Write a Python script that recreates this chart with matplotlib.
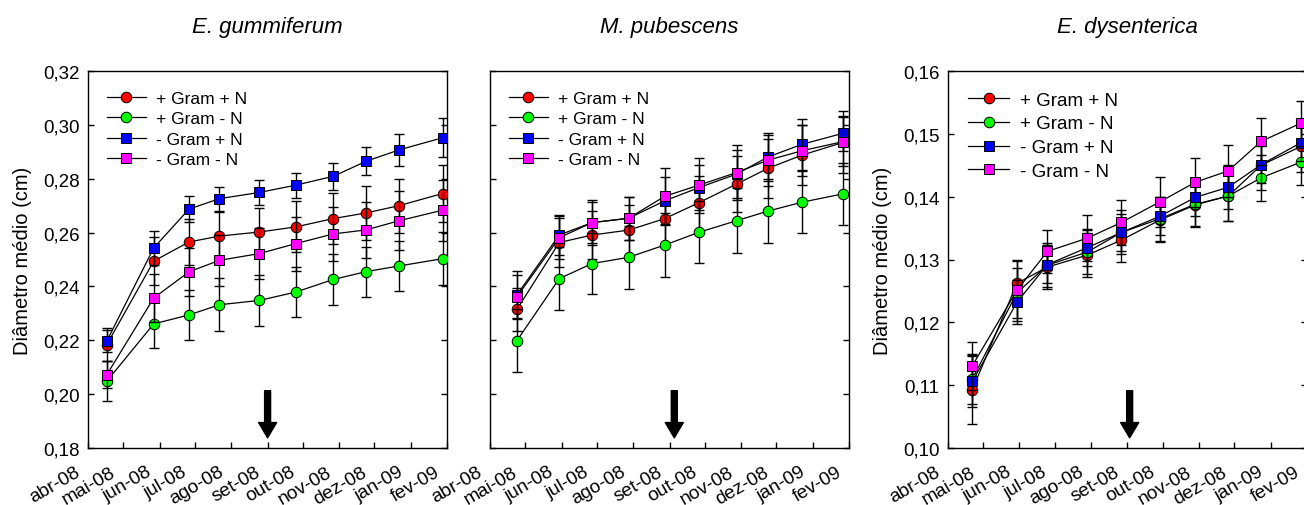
import numpy as np
import matplotlib
matplotlib.use("Agg")
import matplotlib.pyplot as plt
import matplotlib.dates as mdates
import matplotlib.transforms as mtransforms
from matplotlib.ticker import FixedLocator, FuncFormatter

plt.rcParams['font.family'] = ['Liberation Sans', 'DejaVu Sans']

# ---- data -------------------------------------------------------------
treatments = ['+ Gram + N', '+ Gram - N', '- Gram + N', '- Gram - N']
colors = ['#ff0000', '#00ff00', '#0000ff', '#ff00ff']
markers = ['o', 'o', 's', 's']

species = ['E. gummiferum', 'M. pubescens', 'E. dysenterica']

month_ticks = ['2008-04-01', '2008-05-01', '2008-06-01', '2008-07-01', '2008-08-01',
               '2008-09-01', '2008-10-01', '2008-11-01', '2008-12-01', '2009-01-01',
               '2009-02-01']
month_labels = ['abr-08', 'mai-08', 'jun-08', 'jul-08', 'ago-08', 'set-08',
                'out-08', 'nov-08', 'dez-08', 'jan-09', 'fev-09']

dates_gum = ['2008-04-17', '2008-05-27', '2008-06-26', '2008-07-22', '2008-08-25',
             '2008-09-25', '2008-10-27', '2008-11-24', '2008-12-22', '2009-01-28']
dates_pub = ['2008-04-24', '2008-05-30', '2008-06-27', '2008-07-28', '2008-08-28',
             '2008-09-26', '2008-10-28', '2008-11-24', '2008-12-23', '2009-01-27']
dates_dys = ['2008-04-22', '2008-05-30', '2008-06-25', '2008-07-29', '2008-08-27',
             '2008-09-29', '2008-10-29', '2008-11-26', '2008-12-24', '2009-01-27']

# E. gummiferum
gum_mean = [
    [0.2184, 0.2494, 0.2565, 0.2587, 0.2602, 0.2621, 0.2652, 0.2673, 0.2700, 0.2745],
    [0.2048, 0.2261, 0.2294, 0.2332, 0.2348, 0.2379, 0.2426, 0.2455, 0.2476, 0.2503],
    [0.2197, 0.2543, 0.2687, 0.2726, 0.2749, 0.2776, 0.2809, 0.2865, 0.2907, 0.2952],
    [0.2072, 0.2357, 0.2454, 0.2497, 0.2522, 0.2559, 0.2595, 0.2610, 0.2644, 0.2683],
]
gum_err = [
    [0.0060, 0.0090, 0.0085, 0.0090, 0.0090, 0.0095, 0.0095, 0.0100, 0.0100, 0.0105],
    [0.0075, 0.0090, 0.0094, 0.0098, 0.0095, 0.0092, 0.0094, 0.0093, 0.0092, 0.0099],
    [0.0040, 0.0063, 0.0047, 0.0045, 0.0047, 0.0047, 0.0050, 0.0052, 0.0060, 0.0072],
    [0.0050, 0.0090, 0.0090, 0.0095, 0.0095, 0.0100, 0.0100, 0.0105, 0.0110, 0.0113],
]

# M. pubescens
pub_mean = [
    [0.2315, 0.2563, 0.2591, 0.2609, 0.2652, 0.2711, 0.2780, 0.2839, 0.2888, 0.2935],
    [0.2199, 0.2429, 0.2485, 0.2508, 0.2554, 0.2601, 0.2644, 0.2680, 0.2713, 0.2744],
    [0.2369, 0.2591, 0.2637, 0.2653, 0.2718, 0.2767, 0.2817, 0.2881, 0.2928, 0.2969],
    [0.2362, 0.2581, 0.2637, 0.2653, 0.2735, 0.2776, 0.2823, 0.2869, 0.2904, 0.2938],
]
pub_err = [
    [0.0080, 0.0090, 0.0090, 0.0095, 0.0100, 0.0100, 0.0105, 0.0110, 0.0110, 0.0115],
    [0.0117, 0.0118, 0.0112, 0.0116, 0.0118, 0.0115, 0.0121, 0.0118, 0.0116, 0.0115],
    [0.0090, 0.0075, 0.0075, 0.0080, 0.0090, 0.0085, 0.0090, 0.0090, 0.0095, 0.0065],
    [0.0080, 0.0080, 0.0085, 0.0080, 0.0105, 0.0102, 0.0102, 0.0095, 0.0095, 0.0090],
]

# E. dysenterica
dys_mean = [
    [0.1093, 0.1262, 0.1288, 0.1307, 0.1331, 0.1363, 0.1387, 0.1401, 0.1450, 0.1480],
    [0.1110, 0.1247, 0.1291, 0.1312, 0.1343, 0.1365, 0.1388, 0.1401, 0.1430, 0.1455],
    [0.1106, 0.1232, 0.1292, 0.1319, 0.1343, 0.1369, 0.1399, 0.1415, 0.1451, 0.1486],
    [0.1131, 0.1251, 0.1313, 0.1334, 0.1359, 0.1392, 0.1423, 0.1441, 0.1488, 0.1517],
]
dys_err = [
    [0.0055, 0.0035, 0.0035, 0.0035, 0.0035, 0.0035, 0.0035, 0.0040, 0.0040, 0.0040],
    [0.0040, 0.0040, 0.0035, 0.0035, 0.0035, 0.0035, 0.0035, 0.0040, 0.0037, 0.0037],
    [0.0040, 0.0035, 0.0030, 0.0030, 0.0030, 0.0030, 0.0030, 0.0035, 0.0030, 0.0030],
    [0.0038, 0.0049, 0.0034, 0.0037, 0.0036, 0.0040, 0.0039, 0.0041, 0.0037, 0.0036],
]

arrow_dates = ['2008-09-01', '2008-09-05', '2008-09-03']

yticks_gum = [0.18, 0.20, 0.22, 0.24, 0.26, 0.28, 0.30, 0.32]
yticks_dys = [0.10, 0.11, 0.12, 0.13, 0.14, 0.15, 0.16]

# ---- figure -------------------------------------------------------------
fig = plt.figure(figsize=(13.04, 5.06), dpi=100)
W, H = 1304, 506
ax_lefts = [88, 490, 947.7]
ax_w, ax_top, ax_bot = 359.2, 72, 449

panels = [
    (dates_gum, gum_mean, gum_err, yticks_gum, True, 12.5, 0.3),
    (dates_pub, pub_mean, pub_err, yticks_gum, False, 12.5, 0.3),
    (dates_dys, dys_mean, dys_err, yticks_dys, True, 13.5, 0.35),
]

xticks = mdates.date2num(np.array(month_ticks, dtype='datetime64[D]'))
# month labels sit down-left of their tick, as in the original
label_shift = mtransforms.ScaledTranslation(-0.13, -0.15, fig.dpi_scale_trans)

for k, (dates, means, errs, yticks, show_y, leg_fs, leg_sp) in enumerate(panels):
    left = ax_lefts[k]
    ax = fig.add_axes([left / W, (H - ax_bot) / H, ax_w / W, (ax_bot - ax_top) / H])
    x = mdates.date2num(np.array(dates, dtype='datetime64[D]'))

    for i in range(len(treatments)):
        ax.errorbar(x, means[i], yerr=errs[i], fmt='none', ecolor='black',
                    elinewidth=1, capsize=3.5, capthick=1, zorder=2 + 2 * i)
        ax.plot(x, means[i], '-', color='black', lw=0.9, marker=markers[i],
                ms=7.6 if markers[i] == 'o' else 7.0, mfc=colors[i], mec='black',
                mew=0.7, label=treatments[i], zorder=3 + 2 * i)

    ax.set_xlim(xticks[0], xticks[-1])
    ax.set_ylim(yticks[0], yticks[-1])
    ax.xaxis.set_major_locator(FixedLocator(xticks))
    ax.tick_params(axis='x', labelbottom=False)
    trans = ax.get_xaxis_transform() + label_shift
    for xt, lab in zip(xticks, month_labels):
        ax.text(xt, 0, lab, transform=trans, rotation=30, ha='right', va='top',
                rotation_mode='anchor', fontsize=13.8, clip_on=False)

    ax.yaxis.set_major_locator(FixedLocator(yticks))
    ax.yaxis.set_major_formatter(FuncFormatter(lambda v, p: f"{v:.2f}".replace('.', ',')))
    ax.tick_params(axis='both', direction='in', length=4, width=1, labelsize=13.5)
    ax.tick_params(axis='y', right=True, pad=6)
    if not show_y:
        ax.tick_params(axis='y', labelleft=False)
    else:
        ax.set_ylabel('Diâmetro médio (cm)', fontsize=14.5, labelpad=8)
    for sp in ax.spines.values():
        sp.set_linewidth(1.0)

    ax.set_title(species[k], fontstyle='italic', fontsize=16, pad=28)

    ax.legend(loc='upper left', bbox_to_anchor=(0.025, 0.975), frameon=False,
              fontsize=leg_fs, handlelength=2.2, handletextpad=0.6,
              labelspacing=leg_sp, borderaxespad=0.2)

    ax_date = mdates.date2num(np.datetime64(arrow_dates[k]))
    ax.annotate('', xy=(ax_date, 0.027), xytext=(ax_date, 0.152),
                xycoords=('data', 'axes fraction'),
                arrowprops=dict(width=4.3, headwidth=13, headlength=11,
                                facecolor='black', edgecolor='black', shrink=0),
                zorder=20)

fig.savefig('out.png', dpi=100, facecolor='white')
